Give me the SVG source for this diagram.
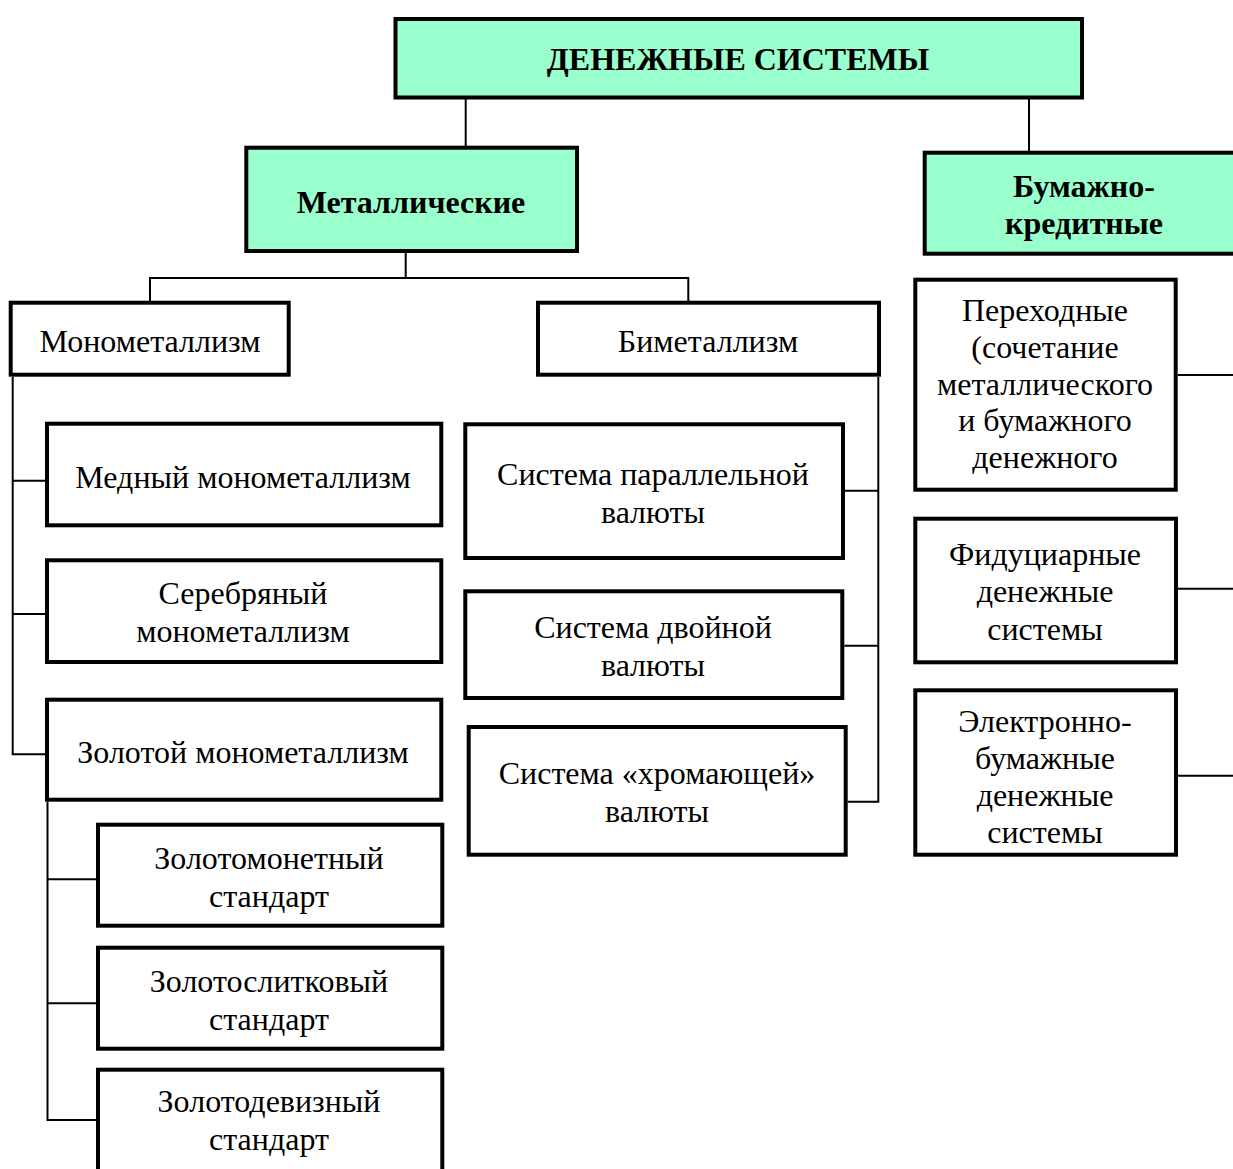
<svg xmlns="http://www.w3.org/2000/svg" width="1233" height="1169" viewBox="0 0 1233 1169">
<style>
.box{fill:#fff;stroke:#000;stroke-width:4;}
.hdr{fill:#99ffcc;stroke:#000;stroke-width:4;}
.t{font-family:"Liberation Serif","Times New Roman",serif;font-size:32px;fill:#000;text-anchor:middle;}
.b{font-weight:bold;}
.conn path{fill:none;stroke:#000;stroke-width:2;}
</style>
<rect width="1233" height="1169" fill="#fff"/>
<g class="conn" id="connectors">
<path d="M465.7 99 V147"/>
<path d="M1029 99 V151"/>
<path d="M405.7 253 V278"/>
<path d="M150 301 V278 H688.3 V301"/>
<path d="M12.7 377 V754.3 H45"/>
<path d="M12.7 480.7 H45"/>
<path d="M12.7 614 H45"/>
<path d="M47.5 802 V1120 H96"/>
<path d="M47.5 879.3 H96"/>
<path d="M47.5 1003.3 H96"/>
<path d="M878.3 377 V801.7 H847.7"/>
<path d="M878.3 490.7 H845"/>
<path d="M878.3 645.7 H844.3"/>
<path d="M1177.7 375 H1233"/>
<path d="M1178 588.7 H1233"/>
<path d="M1178 775.7 H1233"/>
</g>
<g id="root"><rect class="hdr" x="395.5" y="19" width="686.5" height="78.5"/><text class="t b" x="738" y="70">ДЕНЕЖНЫЕ СИСТЕМЫ</text></g>
<g id="metal"><rect class="hdr" x="246.3" y="147.7" width="330.7" height="103.3"/><text class="t b" x="411" y="213">Металлические</text></g>
<g id="paper"><rect class="hdr" x="924.7" y="152.7" width="320" height="101"/><text class="t b" x="1084" y="197">Бумажно-</text><text class="t b" x="1084" y="234">кредитные</text></g>
<g id="mono"><rect class="box" x="10.7" y="302.7" width="278" height="72"/><text class="t" x="150" y="352">Монометаллизм</text></g>
<g id="bimetal"><rect class="box" x="538" y="302.7" width="341" height="72"/><text class="t" x="708" y="352">Биметаллизм</text></g>
<g id="copper"><rect class="box" x="47" y="423.7" width="394.3" height="101.6"/><text class="t" x="243" y="488">Медный монометаллизм</text></g>
<g id="silver"><rect class="box" x="47" y="560.3" width="394.3" height="101.7"/><text class="t" x="243" y="604">Серебряный</text><text class="t" x="243" y="642">монометаллизм</text></g>
<g id="gold"><rect class="box" x="47" y="699.7" width="394.3" height="100"/><text class="t" x="243" y="763">Золотой монометаллизм</text></g>
<g id="goldcoin"><rect class="box" x="98" y="824.7" width="344.3" height="101"/><text class="t" x="269" y="869">Золотомонетный</text><text class="t" x="269" y="907">стандарт</text></g>
<g id="goldbullion"><rect class="box" x="98" y="947.7" width="344.3" height="101"/><text class="t" x="269" y="992">Золотослитковый</text><text class="t" x="269" y="1030">стандарт</text></g>
<g id="goldexchange"><rect class="box" x="98" y="1069.7" width="344.3" height="110"/><text class="t" x="269" y="1112">Золотодевизный</text><text class="t" x="269" y="1150">стандарт</text></g>
<g id="parallel"><rect class="box" x="465.3" y="424.3" width="377.7" height="133.7"/><text class="t" x="653" y="485">Система параллельной</text><text class="t" x="653" y="523">валюты</text></g>
<g id="double"><rect class="box" x="465.3" y="591.3" width="377" height="106.7"/><text class="t" x="653" y="638">Система двойной</text><text class="t" x="653" y="676">валюты</text></g>
<g id="limping"><rect class="box" x="468.7" y="727" width="377" height="127.7"/><text class="t" x="657" y="784">Система «хромающей»</text><text class="t" x="657" y="822">валюты</text></g>
<g id="transitional"><rect class="box" x="915.3" y="279.7" width="260.4" height="210"/><text class="t" x="1045" y="321">Переходные</text><text class="t" x="1045" y="358">(сочетание</text><text class="t" x="1045" y="395">металлического</text><text class="t" x="1045" y="431">и бумажного</text><text class="t" x="1045" y="468">денежного</text></g>
<g id="fiduciary"><rect class="box" x="915.3" y="518.7" width="260.7" height="143.6"/><text class="t" x="1045" y="565">Фидуциарные</text><text class="t" x="1045" y="602">денежные</text><text class="t" x="1045" y="640">системы</text></g>
<g id="electronic"><rect class="box" x="915.3" y="690.3" width="260.7" height="164.4"/><text class="t" x="1045" y="732">Электронно-</text><text class="t" x="1045" y="769">бумажные</text><text class="t" x="1045" y="806">денежные</text><text class="t" x="1045" y="843">системы</text></g>
</svg>
